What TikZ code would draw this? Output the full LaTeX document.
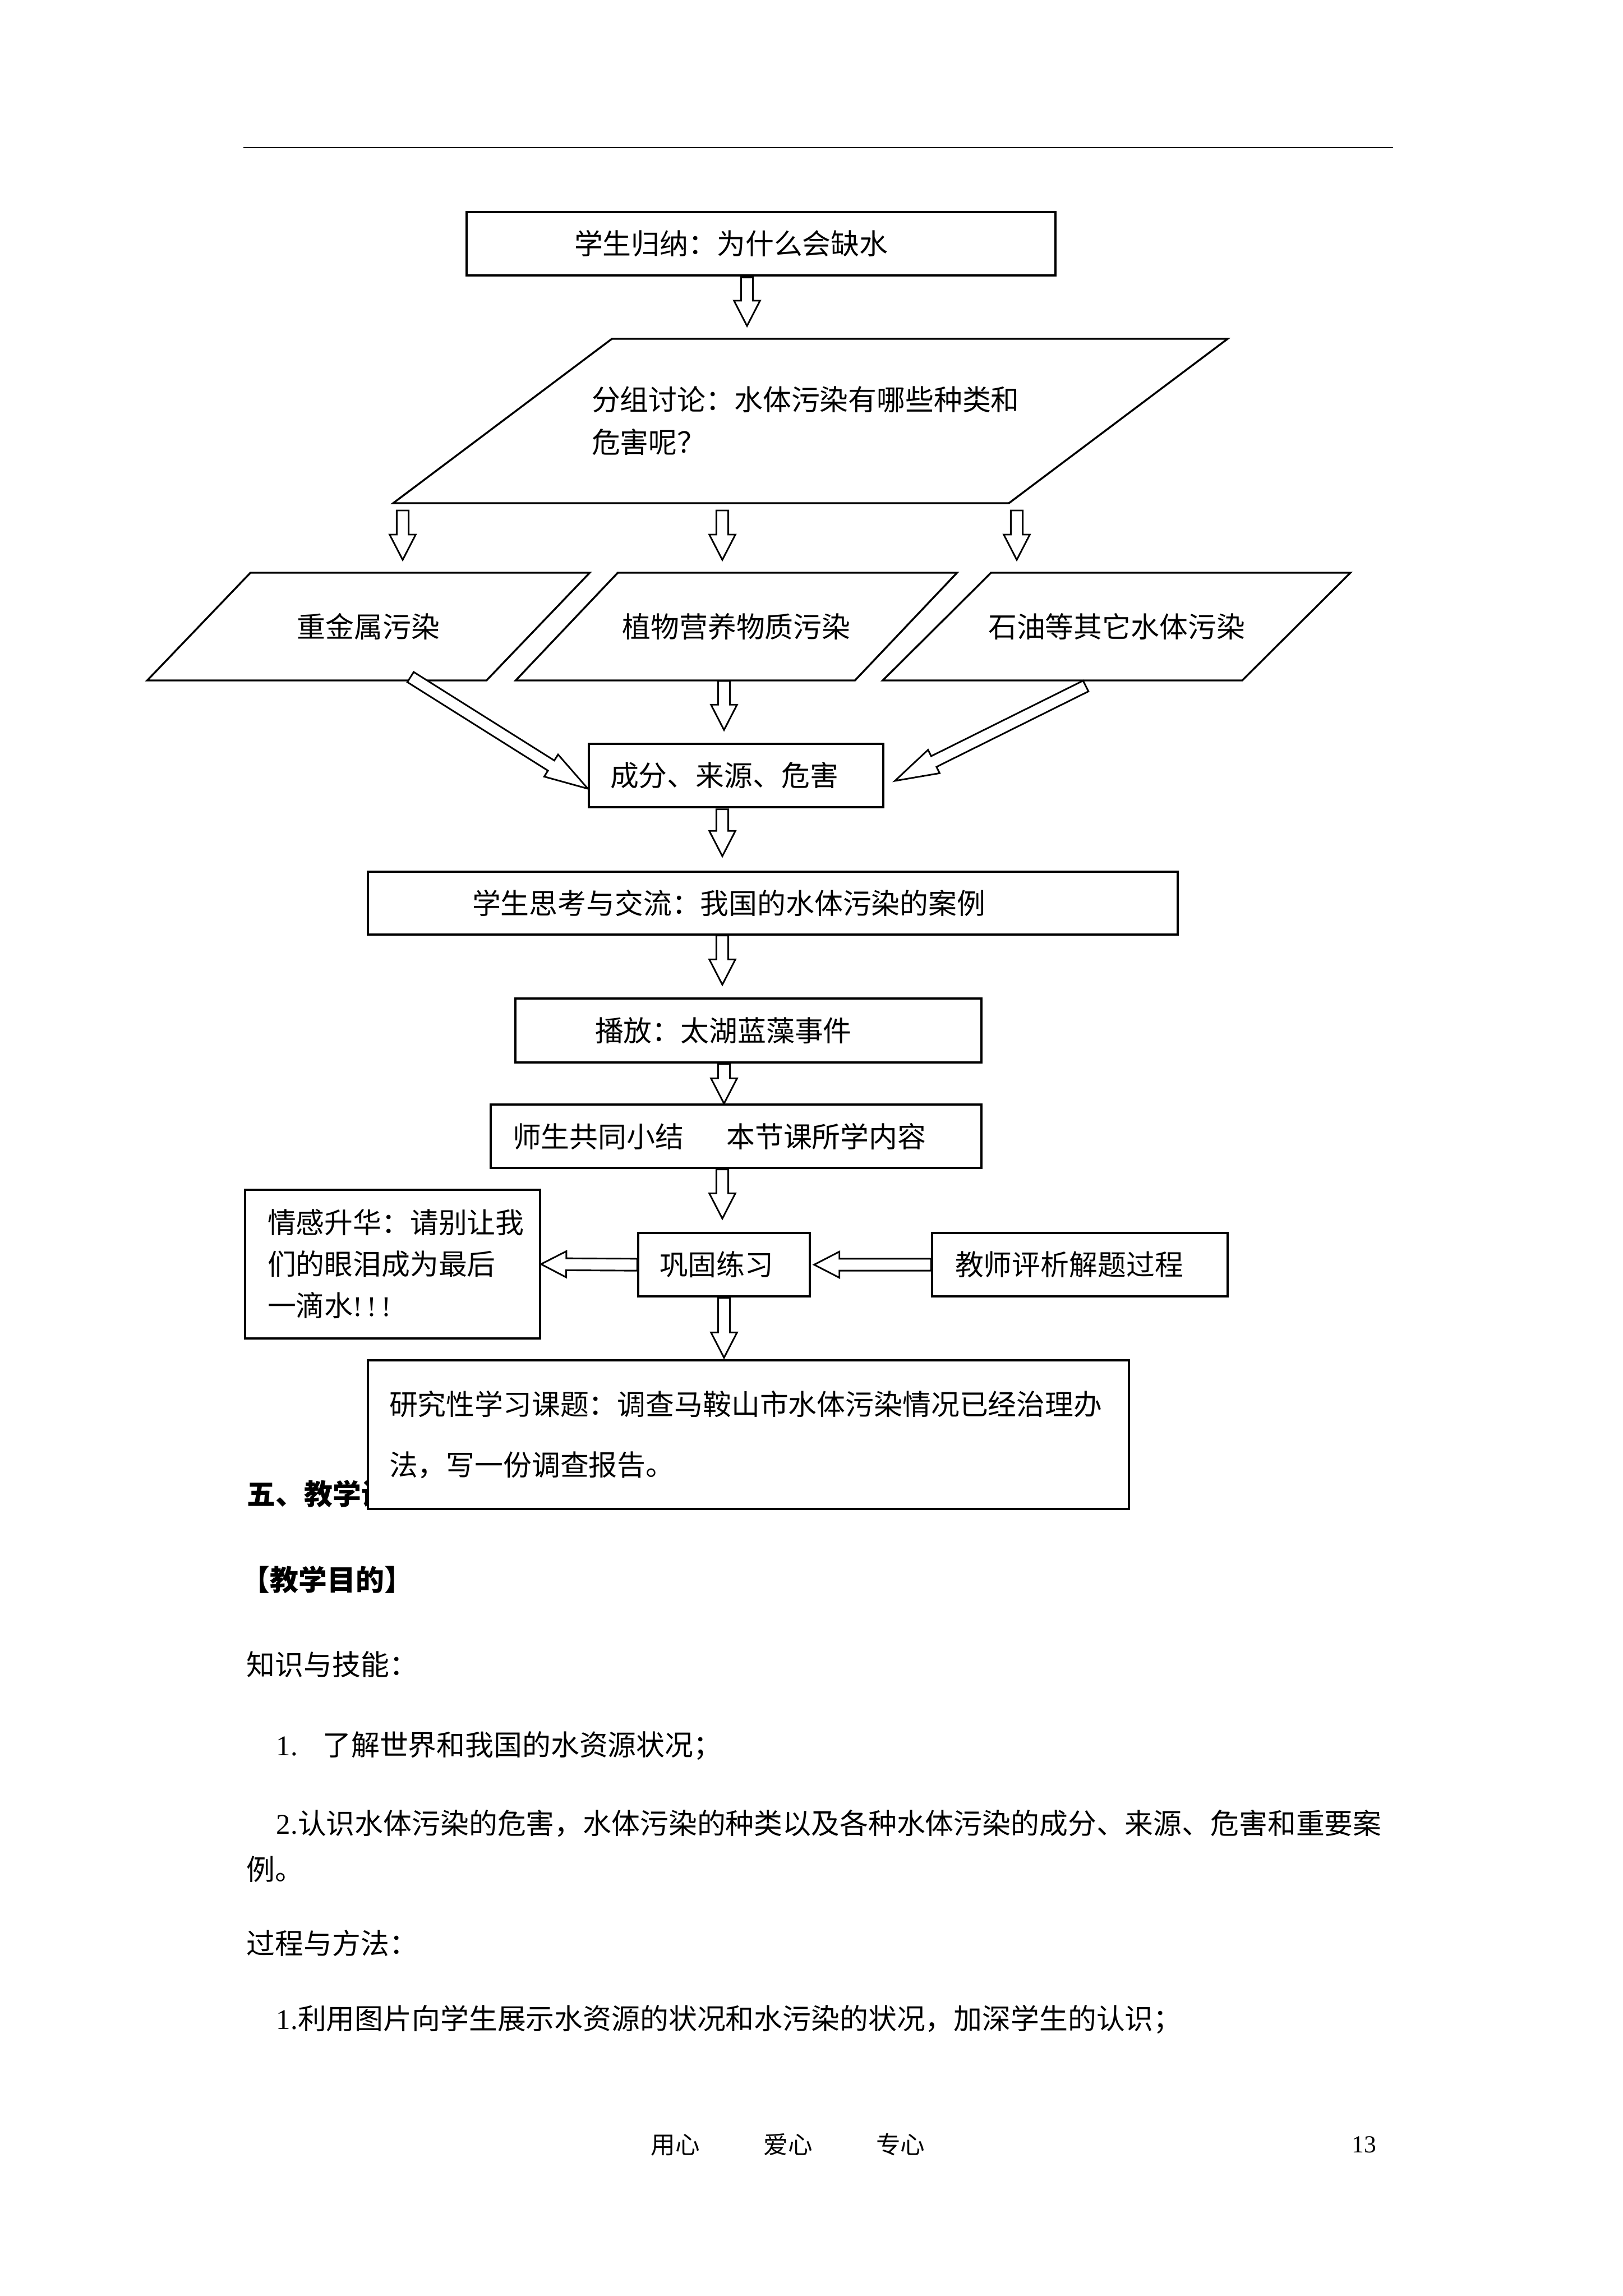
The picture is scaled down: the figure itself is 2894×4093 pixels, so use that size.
\documentclass[tikz,border=0pt]{standalone}
\usepackage{fontspec}
\setmainfont{Liberation Serif}
\newfontfamily\cn{Noto Sans CJK SC}
\usetikzlibrary{calc}
\newdimen\px \px=0.20646pt

% hollow block arrow between two points
\newcommand{\hollow}[3][9.3pt]{%
  \coordinate (ht) at #2;
  \coordinate (hh) at #3;
  \coordinate (hb) at ($(hh)!#1!(ht)$);
  \draw[harrow] ($(ht)!2.2pt!90:(hh)$) -- ($(hb)!2.2pt!90:(hh)$) -- ($(hb)!4.8pt!90:(hh)$) -- (hh)
    -- ($(hb)!4.8pt!-90:(hh)$) -- ($(hb)!2.2pt!-90:(hh)$) -- ($(ht)!2.2pt!-90:(hh)$) -- cycle;}
% slanted outline round a node
\newcommand{\slant}[2]{%
  \draw[para] ([xshift=#2]#1.north west) -- ([xshift=#2]#1.north east)
    -- ([xshift=-#2]#1.south east) -- ([xshift=-#2]#1.south west) -- cycle;}

\begin{document}
\begin{tikzpicture}[
    x=0.20646pt, y=-0.20646pt,
    every node/.style={inner sep=0pt, font=\cn\fontsize{10.5pt}{15.7pt}\selectfont},
    box/.style 2 args={draw, line width=0.7pt, fill=white, align=left,
      text width=#1\px, inner xsep=#2\px, minimum height=113\px},
    slantbox/.style={minimum height=190\px, align=center},
    para/.style={line width=0.7pt},
    harrow/.style={line width=0.6pt, fill=white, line join=miter},
    txt/.style={anchor=west},
    foot/.style={anchor=west, font=\cn\fontsize{9pt}{11pt}\selectfont}
  ]
  \useasboundingbox (0,0) rectangle (2894,4093);

  % page header rule
  \draw[line width=0.5pt] (434,263) -- (2484,263);

  % section title, partly hidden by the last box
  \node[txt, font=\cn\bfseries\fontsize{10.5pt}{12pt}\selectfont] (sec) at (440,2663) {五、教学设};

  % flow chart
  \node[box={666}{192}] (A) at (1357,434.5) {学生归纳：为什么会缺水};

  \node[slantbox, minimum width=1096\px, minimum height=291\px,
        text width=780\px, inner xsep=158\px, align=left] (B) at (1445,750.5)
        {分组讨论：水体污染有哪些种类和\\危害呢？};
  \slant{B}{195\px}

  \node[slantbox, minimum width=603\px] (P1) at (657,1117) {重金属污染};
  \slant{P1}{92\px}
  \node[slantbox, minimum width=603\px] (P2) at (1313,1117) {植物营养物质污染};
  \slant{P2}{91\px}
  \node[slantbox, minimum width=639\px] (P3) at (1991,1117) {石油等其它水体污染};
  \slant{P3}{96.5\px}

  \node[box={449}{38}] (C) at (1312.5,1382.5) {成分、来源、危害};
  \node[box={1072}{186}, minimum height=112\px] (D) at (1378,1610) {学生思考与交流：我国的水体污染的案例};
  \node[box={547}{142}, minimum height=114\px] (E) at (1334.5,1837) {播放：太湖蓝藻事件};
  \node[box={797}{39}] (F) at (1312.5,2025.5) {师生共同小结\hspace{1.5em}本节课所学内容};
  \node[box={230}{38}] (G) at (1291,2254.5) {巩固练习};
  \node[box={445}{41}] (I) at (1925.5,2254.5) {教师评析解题过程};
  \node[box={446}{40}, minimum height=265\px, font=\cn\fontsize{10.5pt}{15.3pt}\selectfont] (H) at (700,2253.5)
        {情感升华：请别让我\\们的眼泪成为最后\\一滴水{\rmfamily !\,!\,!}};
  \node[box={1281}{38}, minimum height=265\px, font=\cn\fontsize{10.5pt}{22.3pt}\selectfont] (J) at (1334.5,2557.5)
        {研究性学习课题：调查马鞍山市水体污染情况已经治理办\\法，写一份调查报告。};

  % arrows
  \hollow{($(A.south)+(-25,2)$)}{($(A.south |- B.north)+(-25,-23)$)}
  \hollow{($(P1.north |- B.south)+(61,13)$)}{($(P1.north)+(61,-23)$)}
  \hollow{($(P2.north |- B.south)+(-25,13)$)}{($(P2.north)+(-25,-23)$)}
  \hollow{($(P3.north |- B.south)+(-178,13)$)}{($(P3.north)+(-178,-23)$)}
  \hollow[16pt]{($(P1.south)+(75,-6)$)}{($(C.west)+(0,23.5)$)}
  \hollow{($(P2.south)+(-22,1)$)}{($(P2.south |- C.north)+(-22,-23)$)}
  \hollow[16pt]{($(P3.south)+(-55,10)$)}{($(C.east)+(19,9.5)$)}
  \hollow{($(C.south)+(-24.5,2)$)}{($(C.south |- D.north)+(-24.5,-26)$)}
  \hollow{($(D.south)+(-90,0)$)}{($(D.south |- E.north)+(-90,-23)$)}
  \hollow{($(E.south)+(-43.5,1)$)}{($(E.south |- F.north)+(-43.5,0)$)}
  \hollow{($(F.south)+(-24.5,1)$)}{($(F.south |- G.north)+(-24.5,-24)$)}
  \hollow{(G.west)}{(H.east)}
  \hollow{(I.west)}{($(G.east)+(6,0)$)}
  \hollow{($(G.south)+(0,1)$)}{($(G.south |- J.north)+(0,-3)$)}

  % text below the chart
  \node[txt, font=\cn\bfseries\fontsize{10.5pt}{12pt}\selectfont] (aim) at (430,2816) {【教学目的】};
  \node[txt] (k0) at (439,2967) {知识与技能：};
  \node[txt] (k1) at (492,3112) {{\rmfamily 1.}\hspace{0.87em}了解世界和我国的水资源状况；};
  \node[txt] (k2) at (492,3251) {{\rmfamily 2.}认识水体污染的危害，水体污染的种类以及各种水体污染的成分、来源、危害和重要案};
  \node[txt] (k2b) at (439,3332) {例。};
  \node[txt] (m0) at (439,3464) {过程与方法：};
  \node[txt] (m1) at (492,3600) {{\rmfamily 1.}利用图片向学生展示水资源的状况和水污染的状况，加深学生的认识；};

  % footer
  \node[foot] (motto) at (1160,3823) {用心\hspace{2.6em}爱心\hspace{2.6em}专心};
  \node[foot, anchor=east, font=\rmfamily\fontsize{9pt}{11pt}\selectfont] (pg) at (2455,3823) {13};
\end{tikzpicture}
\end{document}
